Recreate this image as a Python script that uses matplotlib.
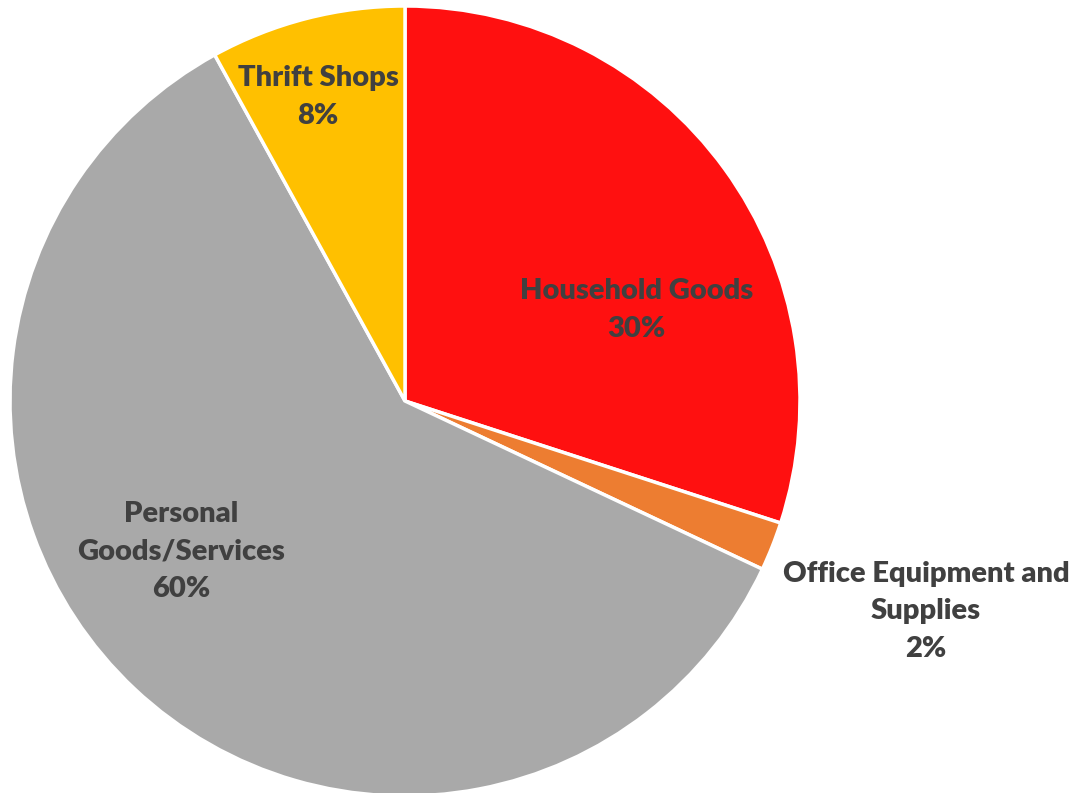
import matplotlib
matplotlib.use("Agg")
import matplotlib.pyplot as plt

CATEGORIES = ["Household Goods", "Office Equipment and\nSupplies", "Personal\nGoods/Services", "Thrift Shops"]
SHARES = [30, 2, 60, 8]
COLORS = ["#FF1010", "#ED7D31", "#A9A9A9", "#FFC000"]
# label centres in pie units (radius = 1), picked to sit where the original puts them
LABEL_POS = [(0.587, 0.230), (1.319, -0.532), (-0.567, -0.382), (-0.220, 0.770)]

fig = plt.figure(figsize=(10.73, 7.93), dpi=100)
ax = fig.add_axes([10 / 1073, -3 / 793, 790 / 1073, 790 / 793])

wedges, _ = ax.pie(SHARES, colors=COLORS, startangle=90, counterclock=False,
                   wedgeprops=dict(edgecolor="white", linewidth=2.5))

for name, share, (x, y) in zip(CATEGORIES, SHARES, LABEL_POS):
    ax.text(x, y, f"{name}\n{share}%", ha="center", va="center",
            fontsize=21, fontweight="heavy", family="Lato", color="#404040",
            linespacing=1.55)

ax.set_xlim(-1, 1)
ax.set_ylim(-1, 1)
ax.set_aspect("auto")
ax.axis("off")
fig.savefig("out.png", dpi=100)
